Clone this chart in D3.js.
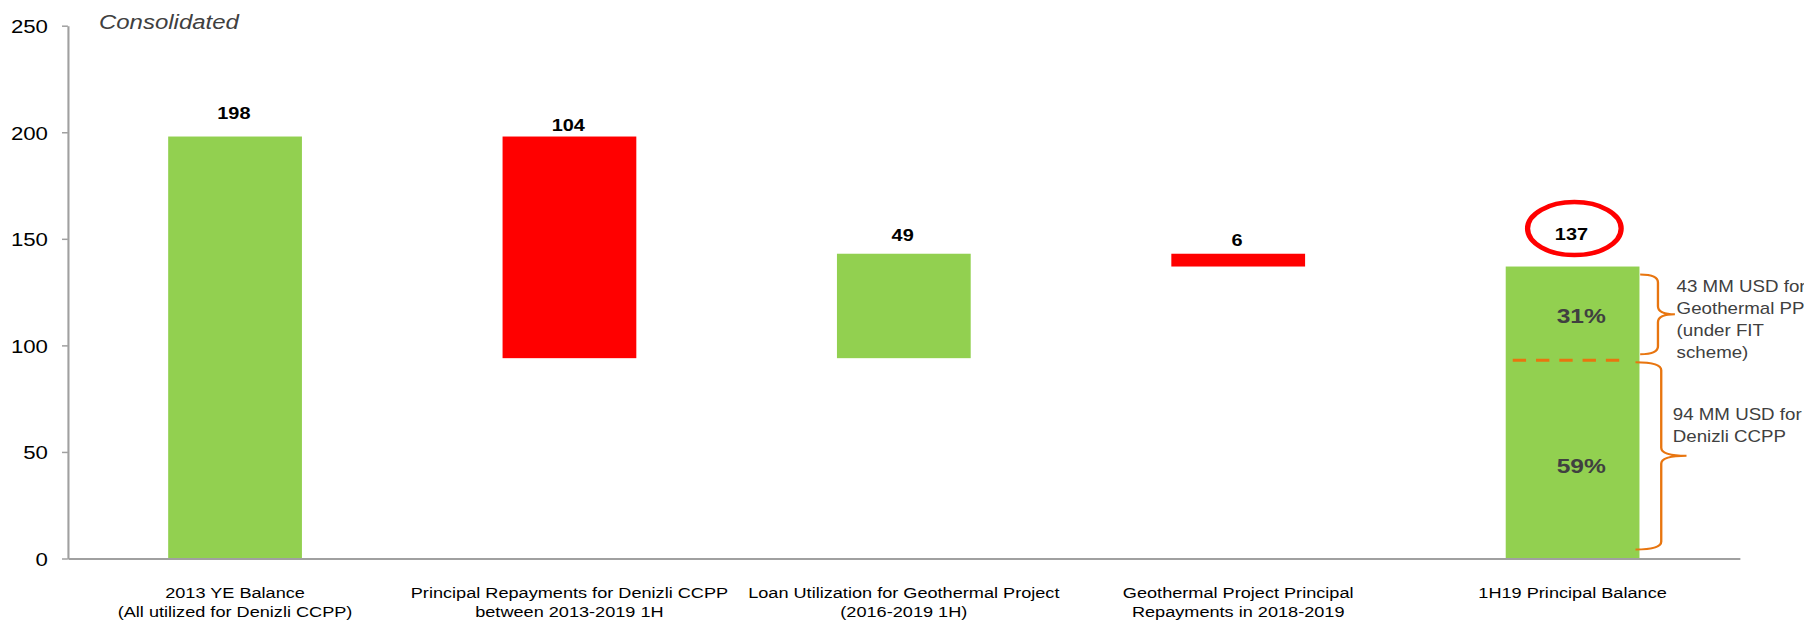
<!DOCTYPE html>
<html>
<head>
<meta charset="utf-8">
<script src="https://cdn.jsdelivr.net/npm/d3@7"></script>
<style>
  html, body { margin: 0; padding: 0; background: #fff; overflow: hidden; }
  svg { display: block; }
  text { font-family: "Liberation Sans", Arial, Helvetica, sans-serif; }
</style>
</head>
<body>
<div id="chart"></div>
<script>
// Principal balance walk (MM USD)
const categories = [
  ["2013 YE Balance", "(All utilized for Denizli CCPP)"],
  ["Principal Repayments for Denizli CCPP", "between 2013-2019 1H"],
  ["Loan Utilization for Geothermal Project", "(2016-2019 1H)"],
  ["Geothermal Project Principal", "Repayments in 2018-2019"],
  ["1H19 Principal Balance"]
];
const steps = [198, -104, 49, -6, 137];
const stepTypes = ["total", "change", "change", "change", "total"];
const valueLabels = ["198", "104", "49", "6", "137"];
const yTicks = [0, 50, 100, 150, 200, 250];

// Split of the closing balance
const splitParts = [94, 43];              // Denizli CCPP, Geothermal PP
const splitShares = ["59%", "31%"];
const splitNotes = [
  ["94 MM USD for", "Denizli CCPP"],
  ["43 MM USD for", "Geothermal PP", "(under FIT", "scheme)"]
];
const subtitle = "Consolidated";

// Page is 1804 px wide; the drawing is laid out on a narrower canvas
// and stretched horizontally, like the original slide graphic.
const W = 1804, H = 623, STRETCH = 1.17;
const VW = W / STRETCH;

const GREEN = "#92d050", RED = "#ff0000", ORANGE = "#e8750f";
const AXIS = "#a0a0a0", NOTE = "#404040";

const svg = d3.select("#chart").append("svg")
  .attr("width", W).attr("height", H)
  .attr("viewBox", `0 0 ${VW} ${H}`)
  .attr("preserveAspectRatio", "none");

const x = d3.scaleBand()
  .domain(d3.range(categories.length))
  .range([58, 1487])
  .paddingInner(0.6)
  .paddingOuter(0.3);

const y = d3.scaleLinear().domain([0, 250]).range([558.5, 25.7]);

// Waterfall segments
let running = 0;
const bars = steps.map((v, i) => {
  let lo, hi;
  if (stepTypes[i] === "total") {
    lo = 0; hi = v; running = v;
  } else {
    const next = running + v;
    lo = Math.min(running, next); hi = Math.max(running, next);
    running = next;
  }
  return { i, lo, hi, down: stepTypes[i] === "change" && v < 0 };
});

svg.append("g").selectAll("rect").data(bars).join("rect")
  .attr("x", d => x(d.i))
  .attr("width", x.bandwidth())
  .attr("y", d => y(d.hi))
  .attr("height", d => y(d.lo) - y(d.hi))
  .attr("fill", d => d.down ? RED : GREEN);

// Axes
const yAxis = svg.append("g")
  .attr("transform", `translate(${x.range()[0]},0)`)
  .call(d3.axisLeft(y).tickValues(yTicks).tickSize(5).tickSizeOuter(0).tickPadding(12));
yAxis.select(".domain").attr("stroke", AXIS).attr("stroke-width", 1.8);
yAxis.selectAll(".tick line").attr("stroke", AXIS).attr("stroke-width", 1.5);
yAxis.selectAll(".tick text")
  .attr("fill", "#000").attr("font-size", 19)
  .attr("font-family", "'Liberation Sans', Arial, sans-serif")
  .attr("dy", "0.36em");

const xAxis = svg.append("g")
  .attr("transform", `translate(0,${y(0)})`)
  .call(d3.axisBottom(x).tickSize(0).tickSizeOuter(0).tickFormat(""));
xAxis.select(".domain").attr("stroke", AXIS).attr("stroke-width", 1.8);

// Category labels
const catText = svg.append("g").selectAll("text").data(categories).join("text")
  .attr("x", (d, i) => x(i) + x.bandwidth() / 2)
  .attr("y", 598)
  .attr("text-anchor", "middle")
  .attr("font-size", 15.5)
  .attr("fill", "#000");
catText.selectAll("tspan").data(d => d).join("tspan")
  .attr("x", function () { return d3.select(this.parentNode).attr("x"); })
  .attr("dy", (d, j) => j === 0 ? 0 : 19)
  .text(d => d);

// Value labels
const labelLift = [18, 6, 13, 8, 27];
svg.append("g").selectAll("text").data(bars).join("text")
  .attr("x", d => x(d.i) + x.bandwidth() / 2 - 1)
  .attr("y", d => y(d.hi) - labelLift[d.i])
  .attr("text-anchor", "middle")
  .attr("font-size", 17)
  .attr("font-weight", "bold")
  .attr("fill", "#000")
  .text(d => valueLabels[d.i]);

// Highlight ring round the closing balance
const last = bars[bars.length - 1];
const lastCx = x(last.i) + x.bandwidth() / 2;
svg.append("ellipse")
  .attr("cx", lastCx + 1.5)
  .attr("cy", y(last.hi) - 38)
  .attr("rx", 40)
  .attr("ry", 26.5)
  .attr("fill", "none")
  .attr("stroke", RED)
  .attr("stroke-width", 4.5);

// Subtitle
svg.append("text")
  .attr("x", 84.6).attr("y", 29)
  .attr("font-size", 20.5)
  .attr("font-style", "italic")
  .attr("fill", NOTE)
  .text(subtitle);

// Split of the closing bar: dashed divider, shares, braces, notes
const barL = x(last.i), barR = x(last.i) + x.bandwidth();
const splitY = y(splitParts[0]);
svg.append("line")
  .attr("x1", barL + 6).attr("x2", barR - 17)
  .attr("y1", splitY + 2).attr("y2", splitY + 2)
  .attr("stroke", ORANGE).attr("stroke-width", 3)
  .attr("stroke-dasharray", "11.4 8.5");

const segs = [
  { lo: 0, hi: splitParts[0] },
  { lo: splitParts[0], hi: splitParts[0] + splitParts[1] }
];
const shareY = [472.7, 323.3];
svg.append("g").selectAll("text").data(splitShares).join("text")
  .attr("x", lastCx + 7.4)
  .attr("y", (d, i) => shareY[i])
  .attr("text-anchor", "middle")
  .attr("font-size", 21)
  .attr("font-weight", "bold")
  .attr("fill", NOTE)
  .text(d => d);

function brace(x0, x1, x2, y0, y1) {
  const ym = (y0 + y1) / 2, r = 8;
  return `M${x0},${y0} Q${x1},${y0} ${x1},${y0 + r} L${x1},${ym - r} Q${x1},${ym} ${x2},${ym}` +
         ` M${x2},${ym} Q${x1},${ym} ${x1},${ym + r} L${x1},${y1 - r} Q${x1},${y1} ${x0},${y1}`;
}
const braceGeom = [
  { tip: -3.4, spine: 18.6, point: 40.2, top: y(segs[0].hi) + 4, bot: y(segs[0].lo) - 9 },
  { tip: 0.6, spine: 15.8, point: 30.3, top: y(segs[1].hi) + 8, bot: y(segs[1].lo) - 4 }
];
svg.append("g").selectAll("path").data(braceGeom).join("path")
  .attr("d", b => brace(barR + b.tip, barR + b.spine, barR + b.point, b.top, b.bot))
  .attr("fill", "none")
  .attr("stroke", ORANGE)
  .attr("stroke-width", 2);

const noteLayout = [
  { x: 1429.7, y: 420 },
  { x: 1433, y: 291.7 }
];
svg.append("g").selectAll("text").data(splitNotes).join("text")
  .attr("x", (d, i) => noteLayout[i].x)
  .attr("y", (d, i) => noteLayout[i].y)
  .attr("font-size", 16)
  .attr("fill", NOTE)
  .each(function (lines, i) {
    d3.select(this).selectAll("tspan").data(lines).join("tspan")
      .attr("x", noteLayout[i].x)
      .attr("dy", (d, j) => j === 0 ? 0 : 22.2)
      .text(d => d);
  });
</script>
</body>
</html>
